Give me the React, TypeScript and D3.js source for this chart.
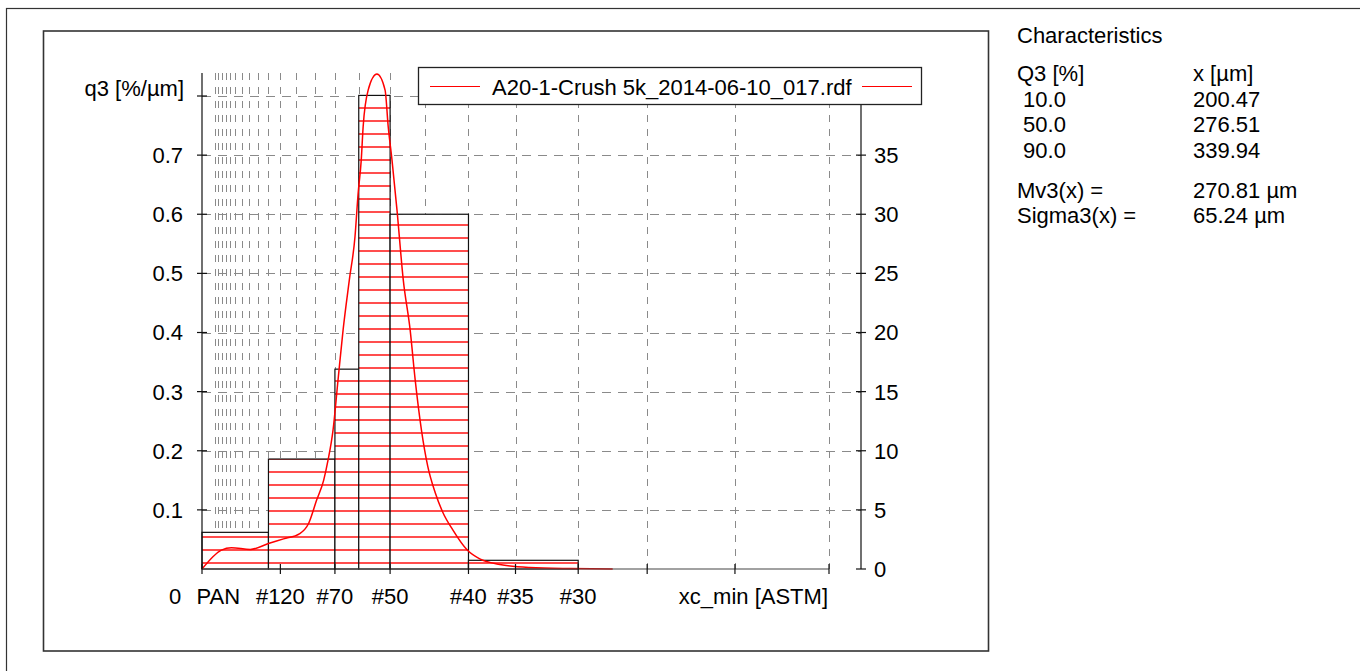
import React from "react";
import * as d3 from "d3";

// ---------- data ----------
const gridSizes = [20, 25, 32, 38, 45, 53, 63, 75, 90, 106, 125, 150, 180, 212, 250, 300, 355, 425, 500, 600, 710, 850, 1000];
const tickSizes = [0, 125, 212, 300, 425, 500, 600, 710, 850, 1000];
const axisLabelText = ["0", "PAN", "#120", "#70", "#50", "#40", "#35", "#30"];
const axisLabelAt = [-43, 26, 125, 212, 300, 425, 500, 600];

const classLower = [0, 106, 212, 250, 300, 425];
const classUpper = [106, 212, 250, 300, 425, 600];
const classQ3 = [0.062, 0.186, 0.338, 0.801, 0.6, 0.0147];

const curveSize = [0, 31, 47, 77, 106, 130, 156, 170, 183, 194, 201, 209, 217, 225, 235, 244, 249, 254, 257, 265, 279, 292, 297, 303, 311, 321, 332, 340, 350, 360, 372, 384, 400, 423, 443, 475, 523, 587, 655];
const curveQ3 = [0, 0.032, 0.036, 0.033, 0.043, 0.051, 0.06, 0.077, 0.117, 0.15, 0.184, 0.235, 0.32, 0.404, 0.489, 0.562, 0.635, 0.692, 0.748, 0.81, 0.837, 0.81, 0.748, 0.692, 0.607, 0.489, 0.404, 0.32, 0.235, 0.174, 0.129, 0.096, 0.066, 0.032, 0.017, 0.0076, 0.0025, 0.0007, 0];

const leftTicks = [0.1, 0.2, 0.3, 0.4, 0.5, 0.6, 0.7];
const leftTickMarks = [0.1, 0.2, 0.3, 0.4, 0.5, 0.6, 0.7, 0.8];
const rightTicks = [0, 5, 10, 15, 20, 25, 30, 35];
const rightTickMarks = [0, 5, 10, 15, 20, 25, 30, 35, 40];
const hGrid = [0.1, 0.2, 0.3, 0.4, 0.5, 0.6, 0.7, 0.8];

const legendLabel = "A20-1-Crush 5k_2014-06-10_017.rdf";
const charTitle = "Characteristics";
const charLeft = ["Q3 [%]", " 10.0", " 50.0", " 90.0"];
const charRight = ["x [µm]", "200.47", "276.51", "339.94"];
const statLeft = ["Mv3(x) =", "Sigma3(x) ="];
const statRight = ["270.81 µm", "65.24 µm"];

const FONT = "'Liberation Sans', Arial, Helvetica, sans-serif";

export default function App() {
  const W = 1360, H = 671;
  const x = d3.scaleLinear().domain([0, 1000]).range([202, 829]);
  const yL = d3.scaleLinear().domain([0, 0.8]).range([569, 96]);
  const yR = d3.scaleLinear().domain([0, 40]).range([569, 96]);
  const axisX = 202, rightAxisX = 861, plotTop = 73, plotBottom = 569;

  const line = d3
    .line<number>()
    .x((_, i) => x(curveSize[i]))
    .y((d) => yL(d))
    .curve(d3.curveMonotoneX);
  const pathD = line(curveQ3) || "";

  const fs = 22;
  return (
    <div style={{ position: "absolute", left: 0, top: 0 }}>
      <svg width={W} height={H} style={{ display: "block", fontFamily: FONT }}>
        <defs>
          <pattern id="hatch" patternUnits="userSpaceOnUse" x={0} y={0} width={20} height={13}>
            <rect x={0} y={0} width={20} height={13} fill="#fff" />
            <line x1={0} x2={20} y1={4} y2={4} stroke="#ff0000" strokeWidth={1.4} />
          </pattern>
        </defs>
        <rect x={0} y={0} width={W} height={H} fill="#fff" />
        {/* frames */}
        <rect x={6.5} y={8.5} width={1500} height={800} fill="none" stroke="#333" strokeWidth={1.2} />
        <rect x={43.5} y={31} width={945} height={620} fill="none" stroke="#333" strokeWidth={1.6} />

        {/* vertical grid */}
        {gridSizes.map((s) => (
          <line key={"vg" + s} x1={Math.round(x(s)) + 0.5} x2={Math.round(x(s)) + 0.5} y1={plotTop} y2={plotBottom}
            stroke="#8a8a8a" strokeWidth={1} strokeDasharray="7 7" />
        ))}
        {/* horizontal grid */}
        {hGrid.map((v) => (
          <line key={"hg" + v} x1={axisX} x2={rightAxisX} y1={Math.round(yL(v)) + 0.5} y2={Math.round(yL(v)) + 0.5}
            stroke="#8a8a8a" strokeWidth={1} strokeDasharray="9 7" />
        ))}

        {/* bars */}
        {classQ3.map((q, i) => (
          <rect key={"b" + i} x={x(classLower[i])} y={yL(q)} width={x(classUpper[i]) - x(classLower[i])}
            height={yL(0) - yL(q)} fill="url(#hatch)" stroke="#111" strokeWidth={1.2} />
        ))}

        {/* density curve */}
        <path d={pathD} fill="none" stroke="#ff0000" strokeWidth={1.5} />

        {/* axes */}
        <line x1={axisX} x2={axisX} y1={plotTop} y2={plotBottom} stroke="#111" strokeWidth={1.2} />
        <line x1={rightAxisX} x2={rightAxisX} y1={plotTop} y2={plotBottom} stroke="#111" strokeWidth={1.2} />
        <line x1={axisX} x2={x(1000)} y1={plotBottom} y2={plotBottom} stroke="#444" strokeWidth={1.2} />
        {leftTickMarks.map((v) => (
          <line key={"lt" + v} x1={axisX - 5} x2={axisX + 5} y1={yL(v)} y2={yL(v)} stroke="#111" strokeWidth={1.2} />
        ))}
        {rightTickMarks.map((v) => (
          <line key={"rt" + v} x1={rightAxisX - 5} x2={rightAxisX + 5} y1={yR(v)} y2={yR(v)} stroke="#111" strokeWidth={1.2} />
        ))}
        {tickSizes.map((s) => (
          <line key={"bt" + s} x1={x(s)} x2={x(s)} y1={plotBottom - 5} y2={plotBottom + 5} stroke="#111" strokeWidth={1.2} />
        ))}
        {leftTicks.map((v) => (
          <text key={"ll" + v} x={183} y={yL(v)} dy="0.36em" textAnchor="end" fontSize={fs}>{v.toFixed(1)}</text>
        ))}
        <text x={184} y={yL(0.8) - 8} dy="0.36em" textAnchor="end" fontSize={fs}>q3 [%/µm]</text>
        {rightTicks.map((v) => (
          <text key={"rl" + v} x={874} y={yR(v)} dy="0.36em" textAnchor="start" fontSize={fs}>{v}</text>
        ))}
        {axisLabelText.map((t, i) => (
          <text key={"xl" + i} x={x(axisLabelAt[i])} y={596} dy="0.36em" textAnchor="middle" fontSize={fs}>{t}</text>
        ))}
        <text x={828} y={596} dy="0.36em" textAnchor="end" fontSize={fs}>xc_min [ASTM]</text>

        {/* legend */}
        <rect x={418.5} y={67.5} width={503} height={37} fill="#fff" stroke="#222" strokeWidth={1.3} />
        <line x1={430} x2={480} y1={86.5} y2={86.5} stroke="#ff0000" strokeWidth={1.2} />
        <line x1={862} x2={912} y1={86.5} y2={86.5} stroke="#ff0000" strokeWidth={1.2} />
        <text x={492} y={87} dy="0.36em" fontSize={fs}>{legendLabel}</text>

        {/* characteristics */}
        <text x={1017} y={35} dy="0.36em" fontSize={fs}>{charTitle}</text>
        {charLeft.map((t, i) => (
          <text key={"cl" + i} x={1017} y={73 + i * 25.7} dy="0.36em" fontSize={fs} style={{ whiteSpace: "pre" }}>{t}</text>
        ))}
        {charRight.map((t, i) => (
          <text key={"cr" + i} x={1193} y={73 + i * 25.7} dy="0.36em" fontSize={fs}>{t}</text>
        ))}
        {statLeft.map((t, i) => (
          <text key={"sl" + i} x={1017} y={190 + i * 25} dy="0.36em" fontSize={fs}>{t}</text>
        ))}
        {statRight.map((t, i) => (
          <text key={"sr" + i} x={1193} y={190 + i * 25} dy="0.36em" fontSize={fs}>{t}</text>
        ))}
      </svg>
    </div>
  );
}
